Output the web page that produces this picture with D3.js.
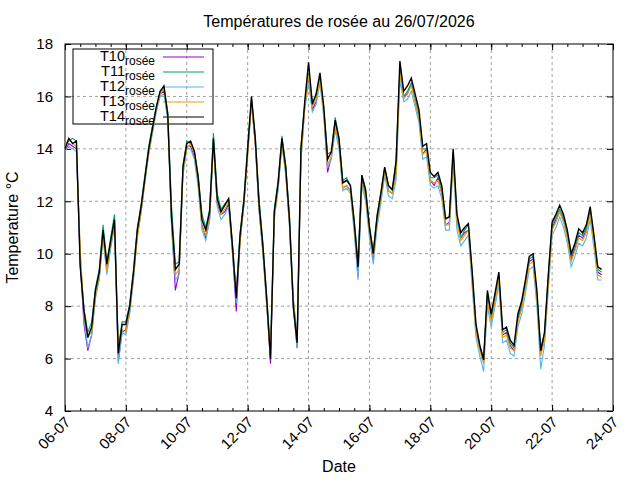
<!DOCTYPE html>
<html>
<head>
<meta charset="utf-8">
<script src="https://cdn.jsdelivr.net/npm/d3@7"></script>
<style>
  body { margin: 0; background: #fff; }
  svg { font-family: "Liberation Sans", Arial, sans-serif; }
</style>
</head>
<body>
<div id="chart"></div>
<script>
// ========= Data (one reading every 3 hours from 06-07 00:00) =========
const seriesNames = ['T10', 'T11', 'T12', 'T13', 'T14'];
const seriesColors = ['#9400d3', '#009e73', '#56b4e9', '#e69f00', '#000000'];
const xTickLabels = ['06-07', '08-07', '10-07', '12-07', '14-07', '16-07', '18-07', '20-07', '22-07', '24-07'];
const yTicks = [4, 6, 8, 10, 12, 14, 16, 18];

const t10 = [
  13.9,14.2,14.1,14.0,9.6,7.3,6.3,6.9,8.4,9.1,
  10.8,9.3,10.3,11.2,5.9,7.0,7.1,7.8,9.1,10.7,
  11.6,12.8,13.9,14.7,15.5,16.1,16.2,15.2,11.2,8.6,
  9.3,13.2,14.1,14.1,13.7,12.7,11.1,10.6,11.3,14.3,
  11.9,11.5,11.6,11.9,10.1,7.8,10.5,11.9,13.9,15.8,
  14.2,11.7,10.1,8.1,5.8,11.5,12.5,14.3,13.1,11.1,
  7.9,6.4,13.7,15.6,16.8,15.5,15.8,16.7,15.4,13.1,
  13.7,14.9,14.2,12.5,12.6,12.4,11.0,9.1,12.8,12.2,
  10.8,9.8,11.2,12.1,13.1,12.4,12.3,13.2,17.0,16.0,
  16.1,16.5,15.8,15.2,13.8,14.0,12.8,12.6,12.9,12.3,
  11.1,11.2,13.8,11.3,10.6,10.8,10.9,9.1,7.1,6.4,
  5.9,8.4,7.5,8.3,9.1,6.9,7.0,6.5,6.3,7.5,
  8.0,8.8,9.7,9.8,8.4,6.2,6.8,9.0,11.0,11.3,
  11.6,11.3,10.7,9.8,10.2,10.7,10.6,10.9,11.6,10.5,
  9.3,9.2
];
const t11 = [
  14.1,14.3,14.4,14.3,9.8,7.9,7.0,7.4,8.7,9.4,
  11.1,9.7,10.6,11.5,6.4,7.4,7.4,8.1,9.4,11.0,
  11.9,13.0,14.1,14.9,15.6,16.2,16.3,15.4,11.8,9.6,
  9.7,13.4,14.3,14.2,13.9,13.0,11.5,11.0,11.7,14.6,
  12.3,11.7,11.9,12.1,10.4,8.5,10.8,12.1,14.1,15.9,
  14.5,12.1,10.4,8.4,6.3,11.7,12.8,14.5,13.4,11.4,
  8.3,6.8,14.1,15.7,16.9,15.8,16.0,16.7,15.5,13.8,
  13.9,15.2,14.4,12.8,12.9,12.6,11.3,9.7,13.0,12.5,
  11.1,10.1,11.5,12.3,13.3,12.6,12.4,13.6,17.0,16.0,
  16.2,16.5,15.9,15.4,14.0,14.0,12.9,12.9,13.0,12.5,
  11.3,11.4,13.9,11.4,10.6,10.9,11.1,9.3,7.2,6.5,
  6.0,8.5,7.6,8.4,9.2,7.0,7.1,6.6,6.4,7.6,
  8.1,8.9,9.8,9.9,8.4,6.4,6.9,9.2,11.1,11.4,
  11.7,11.4,10.8,9.9,10.3,10.8,10.7,11.0,11.7,10.6,
  9.4,9.3
];
const t12 = [
  13.9,14.1,14.0,13.9,10.0,7.5,6.4,6.9,8.3,9.0,
  10.6,9.2,10.2,11.0,5.8,7.0,6.9,7.7,9.0,10.7,
  11.6,12.7,13.8,14.6,15.4,16.0,16.1,15.1,11.0,9.0,
  9.2,13.0,14.0,14.0,13.6,12.5,10.9,10.5,11.3,14.2,
  11.8,11.3,11.5,11.8,10.0,8.1,10.5,11.8,13.8,15.7,
  14.2,11.6,10.0,8.0,6.2,11.4,12.4,14.2,13.0,11.0,
  8.0,6.4,13.5,15.5,16.5,15.4,15.7,16.5,15.2,13.3,
  13.6,14.7,14.0,12.4,12.5,12.3,10.8,9.0,12.6,12.0,
  10.6,9.6,11.0,11.9,13.0,12.2,12.1,12.8,16.6,15.8,
  15.9,16.2,15.6,15.0,13.6,13.7,12.6,12.5,12.6,12.1,
  10.9,10.9,13.4,10.9,10.3,10.5,10.7,8.7,6.8,6.1,
  5.5,8.0,7.2,8.0,8.8,6.6,6.7,6.2,6.1,7.2,
  7.7,8.5,9.4,9.5,8.0,5.6,6.5,8.6,10.7,11.0,
  11.4,11.0,10.4,9.5,9.9,10.4,10.3,10.6,11.3,10.2,
  9.0,9.0
];
const t13 = [
  14.1,14.4,14.2,14.1,10.2,7.6,6.9,7.0,8.4,9.1,
  10.7,9.3,10.4,11.1,6.4,7.1,7.0,7.9,9.1,10.6,
  11.6,12.8,13.8,14.7,15.5,16.1,16.3,15.4,11.2,9.2,
  9.4,13.1,14.0,14.2,13.8,12.7,11.0,10.7,11.5,14.1,
  12.0,11.5,11.7,12.0,10.1,8.5,10.4,11.9,13.7,15.8,
  14.2,11.7,10.1,8.1,6.1,11.3,12.6,14.2,13.1,11.1,
  8.2,6.8,13.6,15.6,16.8,15.6,15.9,16.6,15.4,13.4,
  13.7,14.9,14.2,12.5,12.6,12.4,11.0,9.6,12.7,12.2,
  10.8,9.9,11.2,12.1,13.1,12.4,12.3,13.0,16.9,15.9,
  16.1,16.4,15.8,15.2,13.8,13.9,12.8,12.7,12.8,12.3,
  11.1,11.1,13.6,11.2,10.5,10.7,10.9,9.0,7.0,6.3,
  5.8,8.2,7.4,8.2,9.0,6.8,6.9,6.4,6.3,7.4,
  7.9,8.7,9.6,9.7,8.3,6.1,6.7,8.8,10.9,11.2,
  11.6,11.2,10.6,9.7,10.1,10.6,10.5,10.8,11.5,10.4,
  9.2,9.1
];
const t14 = [
  14.0,14.4,14.2,14.3,9.5,7.8,6.8,7.2,8.6,9.3,
  10.9,9.6,10.5,11.3,6.2,7.3,7.3,8.0,9.3,10.9,
  11.8,12.9,14.0,14.8,15.6,16.2,16.4,15.3,11.4,9.4,
  9.6,13.3,14.2,14.3,13.9,12.9,11.3,10.9,11.6,14.4,
  12.1,11.6,11.85,12.1,10.3,8.3,10.7,12.0,14.0,16.0,
  14.4,11.9,10.3,8.3,6.0,11.6,12.7,14.4,13.3,11.3,
  8.0,6.6,14.0,15.8,17.3,15.7,16.1,16.9,15.6,13.6,
  13.9,15.1,14.4,12.7,12.8,12.6,11.2,9.5,13.0,12.4,
  11.0,10.0,11.4,12.3,13.3,12.6,12.45,13.5,17.35,16.2,
  16.4,16.7,16.1,15.5,14.1,14.2,13.1,12.95,13.1,12.6,
  11.35,11.4,14.0,11.5,10.8,11.0,11.15,9.3,7.3,6.5,
  5.95,8.6,7.7,8.5,9.3,7.1,7.2,6.7,6.5,7.7,
  8.2,9.0,9.9,10.0,8.6,6.3,7.0,9.2,11.2,11.5,
  11.85,11.5,10.9,10.0,10.4,10.95,10.8,11.1,11.8,10.7,
  9.5,9.4
];
const seriesValues = [t10, t11, t12, t13, t14];

// time grid: every 3 hours
const times = d3.timeHours(new Date(2026, 6, 6, 0), new Date(2026, 6, 23, 16), 3);

// ========= Layout =========
const W = 640, H = 480;
const margin = {top: 44, right: 27, bottom: 69, left: 65};
const width = W - margin.left - margin.right;
const height = H - margin.top - margin.bottom;

const svg = d3.select('#chart')
  .append('svg')
  .attr('width', W)
  .attr('height', H);

const g = svg.append('g')
  .attr('transform', `translate(${margin.left},${margin.top})`);

const parseDay = d3.timeParse('%d-%m-%Y');
const xTickDates = xTickLabels.map(d => parseDay(d + '-2026'));

const x = d3.scaleTime()
  .domain([xTickDates[0], xTickDates[xTickDates.length - 1]])
  .range([0, width]);
const y = d3.scaleLinear()
  .domain([4, 18])
  .range([height, 0]);

// ========= Grid =========
const gridColor = '#a0a0a0';
g.append('g').selectAll('line')
  .data(xTickDates.slice(1, -1))
  .enter().append('line')
  .attr('x1', d => x(d)).attr('x2', d => x(d))
  .attr('y1', 0).attr('y2', height)
  .attr('stroke', gridColor).attr('stroke-dasharray', '3,3');
g.append('g').selectAll('line')
  .data(yTicks.slice(1, -1))
  .enter().append('line')
  .attr('x1', 0).attr('x2', width)
  .attr('y1', d => y(d)).attr('y2', d => y(d))
  .attr('stroke', gridColor).attr('stroke-dasharray', '3,3');

// ========= Axes =========
const fmt = d3.timeFormat('%d-%m');
const xAxis = g.append('g')
  .attr('transform', `translate(0,${height})`)
  .call(d3.axisBottom(x).tickValues(xTickDates).tickSize(-6).tickFormat(fmt));
xAxis.selectAll('text')
  .attr('x', 0).attr('y', 0).attr('dy', 0)
  .attr('text-anchor', 'end')
  .attr('transform', 'translate(6,12) rotate(-45)');

g.append('g')
  .attr('transform', `translate(0,${height})`)
  .call(d3.axisBottom(x).ticks(d3.timeHour.every(12)).tickSize(-3).tickFormat(''));
g.append('g')
  .call(d3.axisTop(x).tickValues(xTickDates).tickSize(-6).tickFormat(''));
g.append('g')
  .call(d3.axisTop(x).ticks(d3.timeHour.every(12)).tickSize(-3).tickFormat(''));

g.append('g')
  .call(d3.axisLeft(y).tickValues(yTicks).tickSize(-6).tickPadding(12));
g.append('g')
  .attr('transform', `translate(${width},0)`)
  .call(d3.axisRight(y).tickValues(yTicks).tickSize(-6).tickFormat(''));

g.selectAll('.domain').remove();
g.selectAll('.tick line').attr('stroke', '#000');
g.selectAll('.tick text')
  .attr('fill', '#000')
  .style('font-size', '15px')
  .style('font-family', '"Liberation Sans", Arial, sans-serif');

// frame
g.append('rect')
  .attr('width', width).attr('height', height)
  .attr('fill', 'none').attr('stroke', '#000').attr('stroke-width', 1);

// ========= Legend =========
const legend = g.append('g').attr('transform', 'translate(8,5)');
legend.append('rect')
  .attr('width', 140).attr('height', 75)
  .attr('fill', 'none').attr('stroke', '#000');

const entry = legend.selectAll('.entry')
  .data(seriesNames)
  .enter().append('g')
  .attr('class', 'entry')
  .attr('transform', (d, i) => `translate(0,${8 + i * 15})`);
entry.append('line')
  .attr('x1', 90).attr('x2', 131)
  .attr('stroke', (d, i) => seriesColors[i]);
const label = entry.append('text')
  .attr('x', 82).attr('y', 4)
  .attr('text-anchor', 'end')
  .style('font-size', '14.5px');
label.append('tspan').text(d => d);
label.append('tspan').attr('dy', 3.5).style('font-size', '12px').text('rosée');

// ========= Lines =========
svg.append('clipPath').attr('id', 'clip')
  .append('rect').attr('width', width).attr('height', height);

const line = d3.line()
  .x((d, i) => x(times[i]))
  .y(d => y(d));

g.append('g').attr('clip-path', 'url(#clip)')
  .selectAll('path')
  .data(seriesValues)
  .enter().append('path')
  .attr('d', line)
  .attr('fill', 'none')
  .attr('stroke', (d, i) => seriesColors[i])
  .attr('stroke-width', (d, i) => i === 4 ? 1.4 : 1.1)
  .attr('stroke-linejoin', 'miter');

// ========= Titles =========
svg.append('text')
  .attr('x', margin.left + width / 2).attr('y', 27)
  .attr('text-anchor', 'middle')
  .style('font-size', '16px')
  .text('Températures de rosée au 26/07/2026');
svg.append('text')
  .attr('transform', `translate(18,${margin.top + height / 2}) rotate(-90)`)
  .attr('text-anchor', 'middle')
  .style('font-size', '16px')
  .text('Temperature °C');
svg.append('text')
  .attr('x', margin.left + width / 2).attr('y', 472)
  .attr('text-anchor', 'middle')
  .style('font-size', '16px')
  .text('Date');
</script>
</body>
</html>
